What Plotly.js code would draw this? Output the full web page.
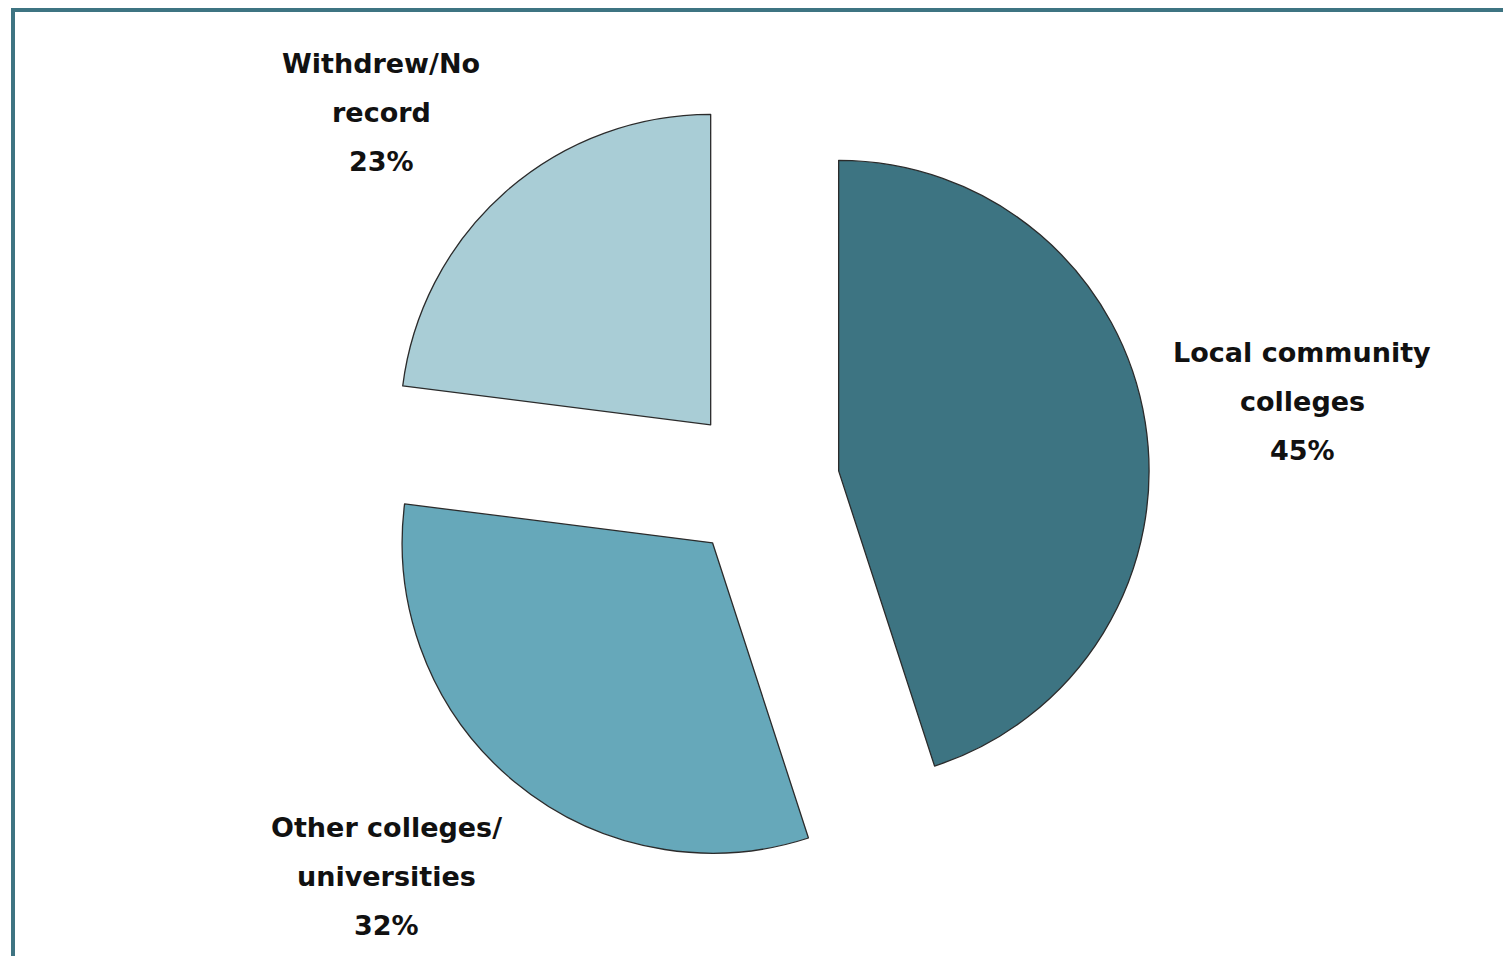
<!DOCTYPE html>
<html>
<head>
<meta charset="utf-8">
<script src="https://cdn.plot.ly/plotly-3.0.1.min.js"></script>
<style>
  html, body { margin: 0; padding: 0; background: #ffffff; overflow: hidden; }
  #chart { position: absolute; left: 0; top: 0; width: 1503px; height: 956px; }
  #frame { position: absolute; left: 11px; top: 8px; width: 1600px; height: 1100px;
           border-top: 4px solid #3e7482; border-left: 4px solid #3e7482; pointer-events: none; }
</style>
</head>
<body>
<div id="chart"></div>
<div id="frame"></div>
<script>
// ---- data ----
const categories = ["Local community colleges", "Other colleges/universities", "Withdrew/No record"];
const labelLines = [["Local community", "colleges"], ["Other colleges/", "universities"], ["Withdrew/No", "record"]];
const shares = [45, 32, 23];
const sliceColors = ["#3d7482", "#66a8ba", "#a9cdd6"];

// ---- layout helpers (pixel positions of the label blocks) ----
const W = 1503, H = 956;
const labelCenterX = [1302, 387, 381];   // px, centre of each label block
const labelFirstBaseline = [362, 837, 73]; // px, baseline of first line
const lineStep = 49;                       // px between lines
const fontSize = 27;

const total = shares.reduce((a, b) => a + b, 0);
const annotations = [];
categories.forEach((cat, i) => {
  const lines = labelLines[i].concat([Math.round(shares[i] / total * 100) + "%"]);
  lines.forEach((txt, k) => {
    const baseline = labelFirstBaseline[i] + k * lineStep;
    annotations.push({
      xref: "paper", yref: "paper",
      x: labelCenterX[i] / W,
      y: 1 - (baseline - 9.5) / H,
      xanchor: "center", yanchor: "middle",
      text: txt, showarrow: false,
      font: { family: "DejaVu Sans, Open Sans, sans-serif", size: fontSize, color: "#111111", weight: 700 }
    });
  });
});

const trace = {
  type: "pie",
  labels: categories,
  values: shares,
  sort: false,
  direction: "clockwise",
  rotation: 0,
  pull: [0.25, 0.25, 0.25],
  marker: { colors: sliceColors, line: { color: "#2b2b2b", width: 1.3 } },
  textinfo: "none",
  hoverinfo: "none",
  showlegend: false,
  domain: { x: [374 / W, 1150 / W], y: [1 - 871 / H, 1 - 95 / H] }
};

const layout = {
  width: W,
  height: H,
  paper_bgcolor: "#ffffff",
  plot_bgcolor: "#ffffff",
  margin: { l: 0, r: 0, t: 0, b: 0 },
  showlegend: false,
  annotations: annotations
};

Plotly.newPlot("chart", [trace], layout, { staticPlot: true, displayModeBar: false });
</script>
</body>
</html>
